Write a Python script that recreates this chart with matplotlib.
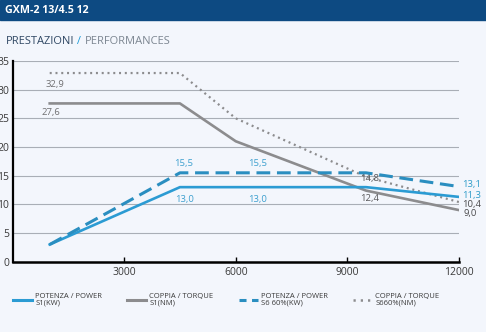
import matplotlib
matplotlib.use('Agg')
import matplotlib.pyplot as plt
from matplotlib.lines import Line2D
from matplotlib.patches import Rectangle

plt.rcParams['font.family'] = ['Open Sans', 'DejaVu Sans']

# 转速 / 功率 / 扭矩数据
rpm_power = [1000, 4500, 6500, 9500, 12000]
rpm_torque = [1000, 4500, 6000, 9500, 12000]
power_s1 = [3.0, 13.0, 13.0, 13.0, 11.3]
power_s6 = [3.0, 15.5, 15.5, 15.5, 13.1]
torque_s1 = [27.6, 27.6, 21.0, 12.4, 9.0]
torque_s6 = [32.9, 32.9, 25.0, 14.8, 10.4]

x_ticks = [3000, 6000, 9000, 12000]
y_ticks = [0, 5, 10, 15, 20, 25, 30, 35]

legend_labels = ['POTENZA / POWER\nS1(KW)', 'COPPIA / TORQUE\nS1(NM)',
                 'POTENZA / POWER\nS6 60%(KW)', 'COPPIA / TORQUE\nS660%(NM)']

BG = '#F3F6FC'
BLUE = '#2B9BD3'
BLUE_D = '#2A8EC0'
GREY = '#8C8C8E'
W, H = 486, 332

fig = plt.figure(figsize=(W / 100, H / 100), dpi=100, facecolor=BG)

# 顶部标题栏
fig.patches.append(Rectangle((0, 1 - 20 / H), 1, 20 / H, transform=fig.transFigure,
                             color='#0D4A82', zorder=0))
fig.text(5 / W, 1 - 10.5 / H, 'GXM-2 13/4.5 12', color='white', fontsize=7.7,
         fontweight='bold', va='center', ha='left')

ax = fig.add_axes([12.5 / W, 1 - 261.7 / H, (459 - 12.5) / W, (261.7 - 61) / H])
ax.set_facecolor(BG)

# 副标题（三段不同颜色）
t1 = fig.text(6 / W, 1 - 41 / H, 'PRESTAZIONI', color='#2F4763', fontsize=8,
              va='center', ha='left')
t2 = ax.annotate(' / ', xy=(1, 0), xycoords=t1, va='bottom', ha='left',
                 color='#1E9BD7', fontsize=8, annotation_clip=False)
ax.annotate('PERFORMANCES', xy=(1, 0), xycoords=t2, va='bottom', ha='left',
            color='#7C8691', fontsize=8, annotation_clip=False)

ax.plot(rpm_power, power_s1, color=BLUE, lw=1.9, zorder=4)
ax.plot(rpm_torque, torque_s1, color=GREY, lw=1.9, zorder=3)
ax.plot(rpm_power, power_s6, color=BLUE_D, lw=2.2, dashes=(4.5, 2.2), zorder=4)
ax.plot(rpm_torque, torque_s6, color=GREY, lw=1.6, dashes=(0.9, 1.7), zorder=3)

# 数值标注
def fmt(v):
    return f'{v:.1f}'.replace('.', ',')

def label(x, y, dx, dy, color, ha='center'):
    ax.annotate(fmt(y), xy=(x, y), xytext=(dx, dy), textcoords='offset points',
                ha=ha, va='center', fontsize=6.8, color=color, annotation_clip=False)

label(rpm_torque[0], torque_s6[0], 4, -8, '#707072')
label(rpm_torque[0], torque_s1[0], 1, -6.5, '#707072')
label(rpm_power[1], power_s6[1], 3, 6.5, '#3EA0CF')
label(rpm_power[1], power_s1[1], 3, -9, '#3EA0CF')
label(rpm_power[2], power_s6[2], 2, 6.5, '#3EA0CF')
label(rpm_power[2], power_s1[2], 2, -9, '#3EA0CF')
label(rpm_torque[3], torque_s6[3], 2.7, -1.5, '#58585A')
label(rpm_torque[3], torque_s1[3], 2.7, -6, '#58585A')
label(rpm_power[4], power_s6[4], 2, 1.2, '#2E9CC9', ha='left')
label(rpm_power[4], power_s1[4], 2, 0.7, '#2E9CC9', ha='left')
label(rpm_torque[4], torque_s6[4], 2.5, -1.9, '#4A4A4C', ha='left')
label(rpm_torque[4], torque_s1[4], 3, -2.4, '#4A4A4C', ha='left')

# 坐标轴
ax.set_xlim(0, 12000)
ax.set_ylim(0, 35)
ax.set_xticks(x_ticks)
ax.set_yticks(y_ticks)
ax.yaxis.grid(True, color='#A9AEB6', lw=0.8)
ax.set_axisbelow(True)
for s in ['top', 'right']:
    ax.spines[s].set_visible(False)
ax.spines['left'].set_linewidth(1.6)
ax.spines['bottom'].set_linewidth(1.8)
ax.tick_params(axis='y', length=0, pad=2.5, labelsize=7.5, labelcolor='#3A3A3A')
ax.tick_params(axis='x', direction='in', length=3.5, width=1, pad=4,
               labelsize=7.5, labelcolor='#3A3A3A')

# 图例
handles = [
    Line2D([], [], color=BLUE, lw=2.2),
    Line2D([], [], color=GREY, lw=2.2),
    Line2D([], [], color=BLUE_D, lw=2.2, dashes=(2.3, 1.8)),
    Line2D([], [], color=GREY, lw=1.8, dashes=(0.9, 2.0)),
]
leg = fig.legend(handles, legend_labels, loc='upper left',
                 bbox_to_anchor=(13 / W, 1 - 293 / H), ncol=4, frameon=False,
                 fontsize=5.5, handlelength=2.5, handletextpad=0.4,
                 columnspacing=3.3, borderpad=0, borderaxespad=0)
for t in leg.get_texts():
    t.set_color('#3A3A3A')
    t.set_linespacing(1.0)

fig.savefig('out.png', dpi=100, facecolor=fig.get_facecolor())
